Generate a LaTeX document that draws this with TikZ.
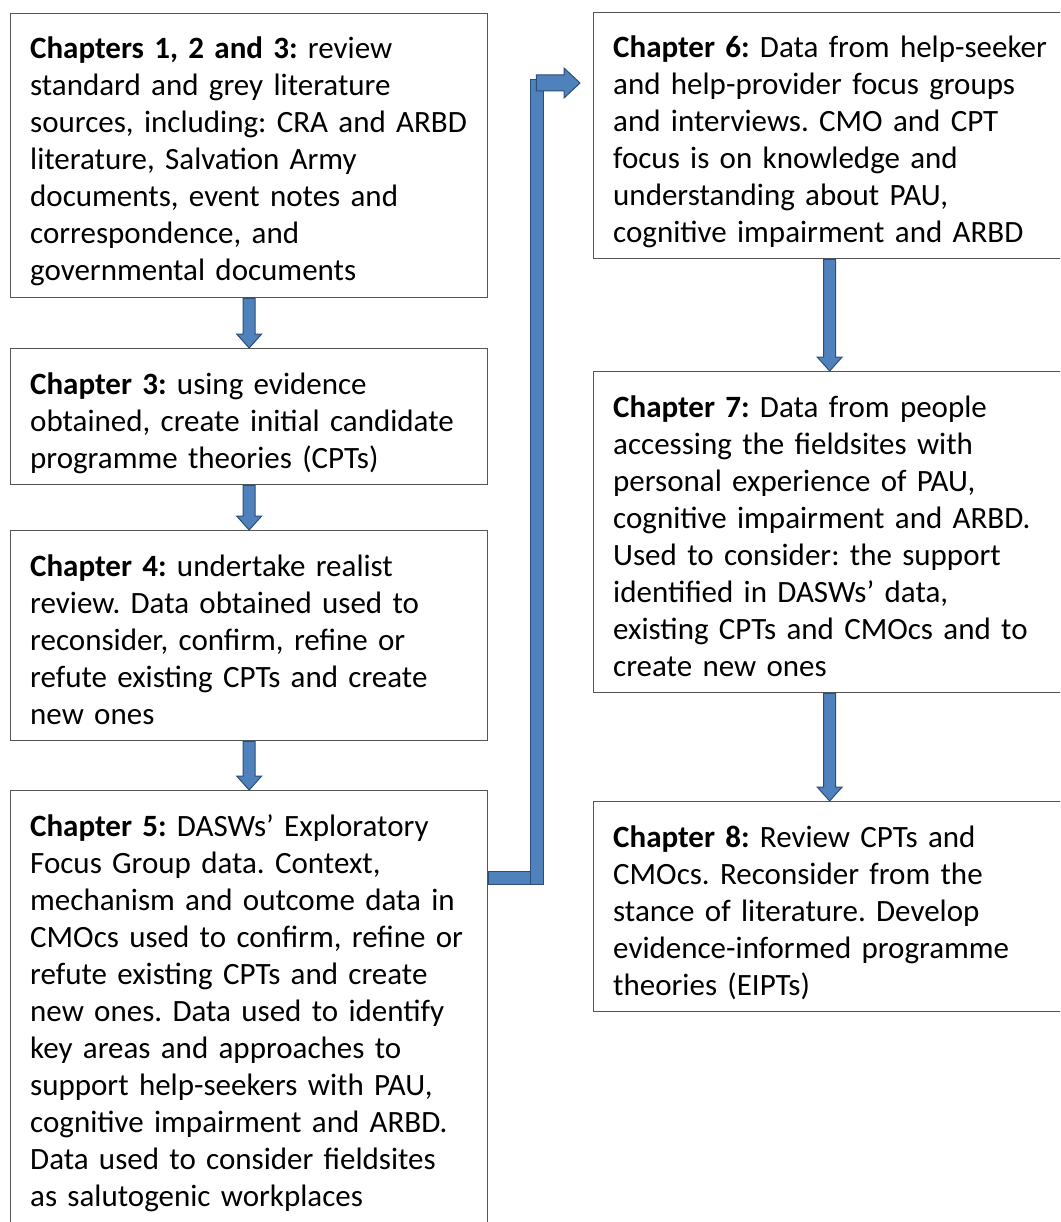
\documentclass[tikz,border=0pt]{standalone}
\usepackage{fontspec}
\setmainfont{Carlito}
\usetikzlibrary{calc}

\definecolor{arrowfill}{RGB}{79,129,189}
\definecolor{arrowline}{RGB}{44,77,117}
\definecolor{boxline}{RGB}{85,85,85}

\tikzset{
  frame/.style={draw=boxline, line width=1.3pt, fill=white, anchor=north west,
                inner sep=0pt},
  txt/.style={anchor=base west, inner sep=0pt, text width=470pt, align=left,
              font=\fontsize{31}{37}\selectfont\frenchspacing},
  blockarrow/.style={fill=arrowfill, draw=arrowline, line width=1pt, line join=miter},
}

% block arrow straight down from the bottom of #1 to the top of #2
\newcommand\downconn[2]{%
  \draw[blockarrow] let \p1=(#1.south), \p2=(#2.north) in
    (\x1-6pt,\y1) -- (\x1+6pt,\y1) -- (\x1+6pt,\y2+14pt) -- (\x1+12.5pt,\y2+14pt)
    -- (\x1,\y2) -- (\x1-12.5pt,\y2+14pt) -- (\x1-6pt,\y2+14pt) -- cycle;}

\begin{document}
\begin{tikzpicture}[x=1pt, y=-1pt]
  \clip (0,0) rectangle (1060,1222);
  \fill[white] (0,0) rectangle (1060,1222);

  % left column
  \node[frame, minimum width=477pt, minimum height=284pt] (b1) at (10,13) {};
  \node[frame, minimum width=477pt, minimum height=136pt] (b2) at (10,348) {};
  \node[frame, minimum width=477pt, minimum height=210pt] (b3) at (10,530) {};
  \node[frame, minimum width=477pt, minimum height=450pt] (b4) at (10,790) {};

  % right column
  \node[frame, minimum width=472pt, minimum height=246pt] (b6) at (593,12) {};
  \node[frame, minimum width=472pt, minimum height=321pt] (b7) at (593,371) {};
  \node[frame, minimum width=472pt, minimum height=210pt] (b8) at (593,801) {};

  \node[txt] (t1) at ($(b1.north west)+(20,46)$) {\textbf{Chapters 1, 2 and 3:} review\\
    standard and grey literature\\
    sources, including: CRA and ARBD\\
    literature, Salvation Army\\
    documents, event notes and\\
    correspondence, and\\
    governmental documents};

  \node[txt] (t2) at ($(b2.north west)+(20,46)$) {\textbf{Chapter 3:} using evidence\\
    obtained, create initial candidate\\
    programme theories (CPTs)};

  \node[txt] (t3) at ($(b3.north west)+(20,46)$) {\textbf{Chapter 4:} undertake realist\\
    review. Data obtained used to\\
    reconsider, confirm, refine or\\
    refute existing CPTs and create\\
    new ones};

  \node[txt] (t4) at ($(b4.north west)+(20,46)$) {\textbf{Chapter 5:} DASWs’ Exploratory\\
    Focus Group data. Context,\\
    mechanism and outcome data in\\
    CMOcs used to confirm, refine or\\
    refute existing CPTs and create\\
    new ones. Data used to identify\\
    key areas and approaches to\\
    support help-seekers with PAU,\\
    cognitive impairment and ARBD.\\
    Data used to consider fieldsites\\
    as salutogenic workplaces};

  \node[txt] (t6) at ($(b6.north west)+(20,46)$) {\textbf{Chapter 6:} Data from help-seeker\\
    and help-provider focus groups\\
    and interviews. CMO and CPT\\
    focus is on knowledge and\\
    understanding about PAU,\\
    cognitive impairment and ARBD};

  \node[txt] (t7) at ($(b7.north west)+(20,46)$) {\textbf{Chapter 7:} Data from people\\
    accessing the fieldsites with\\
    personal experience of PAU,\\
    cognitive impairment and ARBD.\\
    Used to consider: the support\\
    identified in DASWs’ data,\\
    existing CPTs and CMOcs and to\\
    create new ones};

  \node[txt] (t8) at ($(b8.north west)+(20,46)$) {\textbf{Chapter 8:} Review CPTs and\\
    CMOcs. Reconsider from the\\
    stance of literature. Develop\\
    evidence-informed programme\\
    theories (EIPTs)};

  % straight connectors
  \downconn{b1}{b2}
  \downconn{b2}{b3}
  \downconn{b3}{b4}
  \downconn{b6}{b7}
  \downconn{b7}{b8}

  % elbow connector from chapter 5 up to chapter 6
  \coordinate (lowjoin) at ($(b4.north east)+(0,88)$);
  \coordinate (tipend) at ($(b6.north west)+(-13,71)$);
  \draw[blockarrow] let \p1=(lowjoin) in
    (\x1,\y1+6.5pt) rectangle (\x1+55pt,\y1-6.5pt);
  \draw[blockarrow] let \p1=(lowjoin), \p2=(tipend) in
    (\x1+42pt,\y1-6.5pt) rectangle (\x1+55pt,\y2+3pt);
  \draw[blockarrow] let \p1=(lowjoin), \p2=(tipend) in
    (\x1+48pt,\y2+8pt) -- (\x2-16pt,\y2+8pt) -- (\x2-16pt,\y2+15pt) -- (\x2,\y2)
    -- (\x2-16pt,\y2-15pt) -- (\x2-16pt,\y2-8pt) -- (\x1+48pt,\y2-8pt) -- cycle;
\end{tikzpicture}
\end{document}
